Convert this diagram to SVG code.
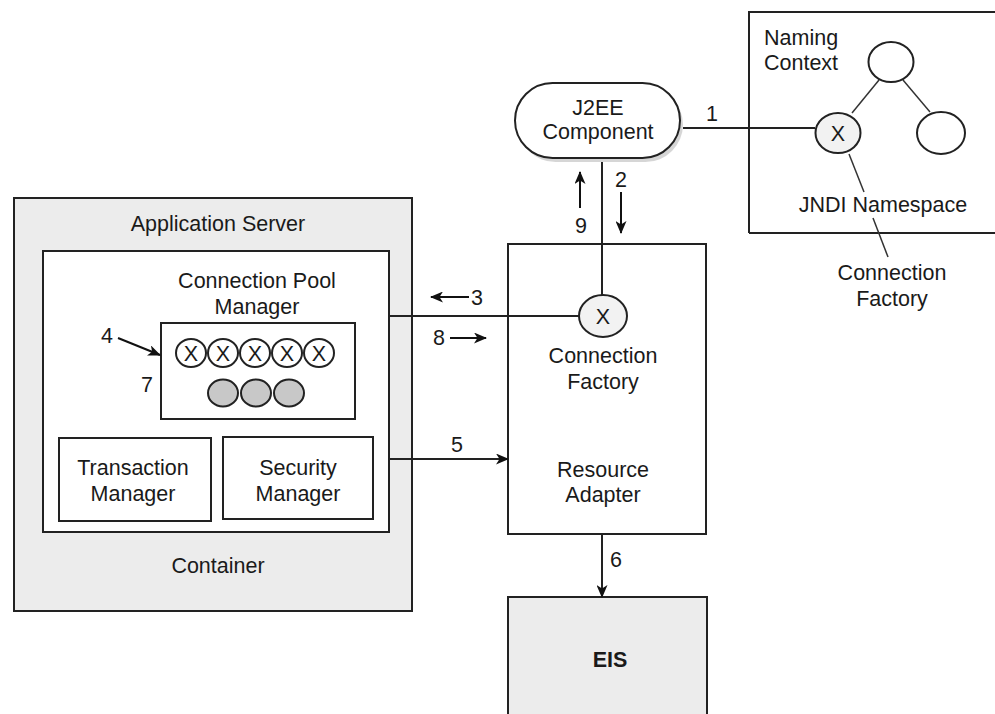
<svg xmlns="http://www.w3.org/2000/svg" width="995" height="714" viewBox="0 0 995 714">
<style>
text{font-family:"Liberation Sans",Arial,sans-serif;font-size:21.5px;fill:#1a1a1a;}
.c{text-anchor:middle;}
.b{font-weight:bold;}
.box{fill:#fff;stroke:#222;stroke-width:2;}
.gbox{fill:#ececec;stroke:#222;stroke-width:2;}
.ln{fill:none;stroke:#222;stroke-width:2;}
.thin{fill:none;stroke:#333;stroke-width:1.5;}
.arr{fill:none;stroke:#111;stroke-width:2;}
.xc{fill:#f2f2f2;stroke:#222;stroke-width:2;}
.oc{fill:#fff;stroke:#222;stroke-width:2;}
.gc{fill:#c8c8c8;stroke:#222;stroke-width:2;}
</style>
<defs>
<marker id="ah" viewBox="0 0 13 11" refX="12" refY="5.5" markerWidth="13" markerHeight="11" markerUnits="userSpaceOnUse" orient="auto">
<path d="M0,0 L13,5.5 L0,11 L3.5,5.5 Z" fill="#111"/>
</marker>
</defs>
<rect width="995" height="714" fill="#fff"/>

<g id="app-server">
<rect class="gbox" x="14" y="198" width="398" height="413"/>
<text class="c" x="218" y="231">Application Server</text>
</g>
<g id="container">
<rect class="box" x="43" y="251" width="346" height="281"/>
<text class="c" x="218" y="573">Container</text>
</g>
<g id="pool-manager">
<text class="c" x="257" y="288">Connection Pool</text>
<text class="c" x="257" y="314">Manager</text>
<rect class="box" x="161" y="323" width="194" height="96"/>
<g>
<ellipse class="oc" cx="191" cy="353" rx="15" ry="14"/>
<ellipse class="oc" cx="223" cy="353" rx="15" ry="14"/>
<ellipse class="oc" cx="255" cy="353" rx="15" ry="14"/>
<ellipse class="oc" cx="287" cy="353" rx="15" ry="14"/>
<ellipse class="oc" cx="319" cy="353" rx="15" ry="14"/>
<text class="c" x="191" y="361">X</text>
<text class="c" x="223" y="361">X</text>
<text class="c" x="255" y="361">X</text>
<text class="c" x="287" y="361">X</text>
<text class="c" x="319" y="361">X</text>
</g>
<ellipse class="gc" cx="223" cy="393" rx="15" ry="13.5"/>
<ellipse class="gc" cx="256" cy="393" rx="15" ry="13.5"/>
<ellipse class="gc" cx="289" cy="393" rx="15" ry="13.5"/>
</g>
<g id="transaction-manager">
<rect class="box" x="59" y="438" width="152" height="83"/>
<text class="c" x="133" y="475">Transaction</text>
<text class="c" x="133" y="501">Manager</text>
</g>
<g id="security-manager">
<rect class="box" x="223" y="437" width="150" height="82"/>
<text class="c" x="298" y="475">Security</text>
<text class="c" x="298" y="501">Manager</text>
</g>

<g id="resource-adapter">
<rect class="box" x="508" y="244" width="198" height="290"/>
<ellipse class="xc" cx="603" cy="316" rx="24" ry="21"/>
<text class="c" x="603" y="324">X</text>
<text class="c" x="603" y="363">Connection</text>
<text class="c" x="603" y="389">Factory</text>
<text class="c" x="603" y="477">Resource</text>
<text class="c" x="603" y="502">Adapter</text>
</g>

<g id="eis">
<rect class="gbox" x="508" y="597" width="199" height="130"/>
<text class="c b" x="610" y="667">EIS</text>
</g>

<g id="j2ee-component">
<rect x="518" y="87" width="165" height="75" rx="37.5" fill="#bbb" opacity="0.6"/>
<rect x="515" y="83" width="165" height="75" rx="37.5" fill="#fff" stroke="#222" stroke-width="2"/>
<text class="c" x="598" y="115">J2EE</text>
<text class="c" x="598" y="139">Component</text>
</g>

<g id="naming-context">
<path class="ln" d="M749,233 V12 H1000 M749,233 H1000"/>
<text x="764" y="45">Naming</text>
<text x="764" y="70">Context</text>
<line class="thin" x1="852" y1="113" x2="879" y2="80"/>
<line class="thin" x1="903" y1="80" x2="930" y2="112"/>
<ellipse class="oc" cx="891" cy="62" rx="22.5" ry="20"/>
<ellipse class="xc" cx="838" cy="133" rx="22.5" ry="20"/>
<text class="c" x="838" y="141">X</text>
<ellipse class="oc" cx="941" cy="133" rx="24" ry="21"/>
<text class="c" x="883" y="212">JNDI Namespace</text>
<line class="thin" x1="849" y1="154" x2="864" y2="192"/>
<line class="thin" x1="873" y1="218" x2="888" y2="257"/>
<text class="c" x="892" y="280">Connection</text>
<text class="c" x="892" y="306">Factory</text>
</g>

<g id="connectors">
<line class="ln" x1="683" y1="128" x2="815" y2="128"/>
<text class="c" x="712" y="121">1</text>
<line class="ln" x1="602" y1="162" x2="602" y2="295"/>
<text class="c" x="621" y="187">2</text>
<line class="arr" x1="621" y1="192" x2="621" y2="233" marker-end="url(#ah)"/>
<text class="c" x="581" y="233">9</text>
<line class="arr" x1="580" y1="208" x2="580" y2="172" marker-end="url(#ah)"/>
<line class="ln" x1="389" y1="316" x2="579" y2="316"/>
<line class="arr" x1="469" y1="297" x2="431" y2="297" marker-end="url(#ah)"/>
<text class="c" x="477" y="305">3</text>
<text class="c" x="439" y="345">8</text>
<line class="arr" x1="450" y1="338" x2="486" y2="338" marker-end="url(#ah)"/>
<line class="ln" x1="389" y1="459" x2="508" y2="459" marker-end="url(#ah)"/>
<text class="c" x="457" y="452">5</text>
<line class="ln" x1="602" y1="534" x2="602" y2="597" marker-end="url(#ah)"/>
<text class="c" x="616" y="567">6</text>
<line class="arr" x1="118" y1="338" x2="160" y2="355" marker-end="url(#ah)"/>
<text class="c" x="107" y="343">4</text>
<text class="c" x="147" y="392">7</text>
</g>
</svg>
